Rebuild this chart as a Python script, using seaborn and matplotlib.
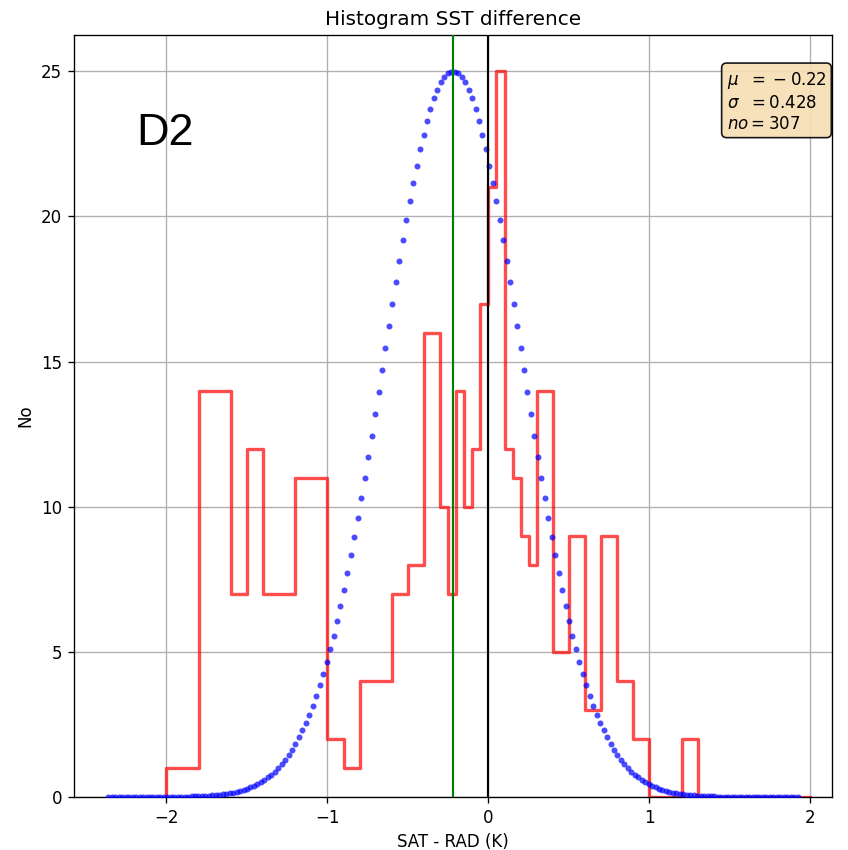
import numpy as np
import pandas as pd
import matplotlib
matplotlib.use("Agg")
import matplotlib.pyplot as plt
import seaborn as sns

# histogram bin edges and counts (SAT - RAD, K)
edges = [-2.0, -1.8, -1.6, -1.5, -1.4, -1.2, -1.0, -0.9, -0.8, -0.6, -0.5, -0.4,
         -0.3, -0.25, -0.2, -0.15, -0.1, -0.05, 0.0, 0.05, 0.1, 0.15, 0.2, 0.25,
         0.3, 0.4, 0.5, 0.6, 0.7, 0.8, 0.9, 1.0, 1.2, 1.3, 2.0]
counts = [1, 14, 7, 12, 7, 11, 2, 1, 4, 7, 8, 16,
          10, 7, 14, 10, 12, 17, 21, 25, 12, 11, 9, 8,
          14, 5, 9, 3, 9, 4, 2, 0, 2, 0]

mu = -0.22
sigma = 0.428
n_obs = 307
n_curve = 200

# leading zero-width bin so the step outline starts from the baseline
bins = [edges[0]] + edges
weights = [0] + counts
e = np.array(bins)
centers = (e[:-1] + e[1:]) / 2
hist_df = pd.DataFrame({"diff": centers, "count": weights})

# gaussian scaled to the histogram peak
xg = np.linspace(mu - 5 * sigma, mu + 5 * sigma, n_curve)
yg = max(counts) * np.exp(-(xg - mu) ** 2 / (2 * sigma ** 2))
curve_df = pd.DataFrame({"x": xg, "y": yg})

fig = plt.figure(figsize=(848 / 120, 850 / 120), dpi=120)
ax = fig.add_axes([74 / 848, 53 / 850, 758 / 848, 762 / 850])

sns.histplot(data=hist_df, x="diff", weights="count", bins=bins,
             element="step", fill=False, color="red", alpha=0.7,
             linewidth=2, ax=ax)
sns.scatterplot(data=curve_df, x="x", y="y", color="blue", alpha=0.7,
                s=13, linewidth=0, ax=ax, zorder=3)

ax.axvline(mu, color="green", linewidth=1.3, zorder=4)
ax.axvline(0, color="black", linewidth=1.3, zorder=4)

span = xg.max() - xg.min()
ax.set_xlim(xg.min() - 0.05 * span, xg.max() + 0.05 * span)
ax.set_ylim(0, max(counts) * 1.05)

ax.grid(True)
ax.set_axisbelow(True)
ax.set_title("Histogram SST difference")
ax.set_xlabel("SAT - RAD (K)")
ax.set_ylabel("No")

textstr = "\n".join((r"$\mu\ \ =\:-\:%.2f$" % abs(mu),
                     r"$\sigma\ \ =%.3f$" % sigma,
                     r"$no=%d$" % n_obs))
props = dict(boxstyle="round", facecolor="wheat", edgecolor="black", alpha=0.9)
ax.text(0.861, 0.954, textstr, transform=ax.transAxes, fontsize=10,
        verticalalignment="top", bbox=props)

ax.text(0.082, 0.856, "D2", transform=ax.transAxes, fontsize=27,
        family="Liberation Sans")

plt.savefig("out.png", dpi=120)
